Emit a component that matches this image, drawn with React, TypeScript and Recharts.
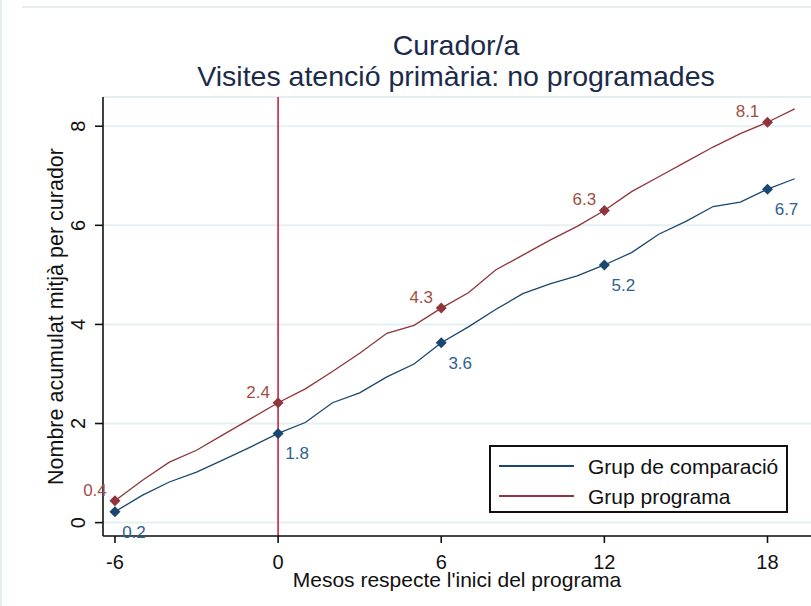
import { LineChart, Line, XAxis, YAxis, CartesianGrid, ReferenceLine, Legend, Label } from "recharts"

// mesos respecte l'inici del programa
const mesos = [-6, -5, -4, -3, -2, -1, 0, 1, 2, 3, 4, 5, 6, 7, 8, 9, 10, 11, 12, 13, 14, 15, 16, 17, 18, 19]

// nombre acumulat mitjà per curador
const grupComparacio = [
  0.22, 0.55, 0.82, 1.02, 1.27, 1.53, 1.8, 2.02, 2.42, 2.62, 2.94, 3.2, 3.63,
  3.95, 4.3, 4.62, 4.82, 4.98, 5.2, 5.45, 5.82, 6.08, 6.38, 6.47, 6.73, 6.94,
]
const grupPrograma = [
  0.44, 0.85, 1.22, 1.46, 1.78, 2.1, 2.42, 2.7, 3.05, 3.42, 3.82, 3.98, 4.33,
  4.64, 5.1, 5.4, 5.7, 5.98, 6.3, 6.68, 6.98, 7.28, 7.58, 7.85, 8.08, 8.35,
]

const mesosMarcats = [-6, 0, 6, 12, 18]
const xTicks = [-6, 0, 6, 12, 18]
const yTicks = [0, 2, 4, 6, 8]

const data = mesos.map((mes, i) => ({
  mes,
  comparacio: grupComparacio[i],
  programa: grupPrograma[i],
}))

const FONT = '"Liberation Sans", Arial, sans-serif'
const BLUE = "#1a476f"
const RED = "#90353b"

function makeDot(color: string, labelColor: string, dx: number, dy: number) {
  return (props: any) => {
    const { cx, cy, payload, key } = props
    if (!mesosMarcats.includes(payload.mes)) return <g key={key} />
    const r = 5.5
    const v = payload[props.dataKey] as number
    return (
      <g key={key}>
        <path d={`M${cx},${cy - r}L${cx + r},${cy}L${cx},${cy + r}L${cx - r},${cy}Z`} fill={color} />
        <text x={cx + dx} y={cy + dy} textAnchor="middle" fontSize={17} fontFamily={FONT} fill={labelColor}>
          {v.toFixed(1)}
        </text>
      </g>
    )
  }
}

function XTick(props: any) {
  const { x, y, payload } = props
  return (
    <text x={x} y={y + 26} textAnchor="middle" fontSize={20} fontFamily={FONT} fill="#111">
      {payload.value}
    </text>
  )
}

function YTick(props: any) {
  const { x, y, payload } = props
  return (
    <text x={x} y={y} transform={`rotate(-90 ${x} ${y})`} textAnchor="middle" fontSize={20} fontFamily={FONT} fill="#111">
      {payload.value}
    </text>
  )
}

function LegendBox(props: any) {
  const items = props.payload || []
  return (
    <div
      style={{
        position: "relative",
        width: 299,
        height: 68,
        border: "2px solid #111",
        boxSizing: "border-box",
        background: "#fff",
        fontFamily: FONT,
      }}
    >
      {items.map((it: any, i: number) => (
        <div key={it.value} style={{ position: "absolute", left: 0, top: 6 + i * 30, height: 28, width: 295 }}>
          <div style={{ position: "absolute", left: 8, top: 12, width: 75, height: 2, background: it.color }} />
          <div style={{ position: "absolute", left: 97, top: 0, fontSize: 21, lineHeight: "28px", color: "#111", whiteSpace: "nowrap" }}>
            {it.value}
          </div>
        </div>
      ))}
    </div>
  )
}

export default function App() {
  return (
    <div style={{ position: "absolute", left: 0, top: 0, width: 811, height: 606, background: "#fff", overflow: "hidden" }}>
      <div style={{ position: "absolute", left: 0, top: 0, width: 2, height: 606, background: "#e8edf0" }} />
      <div style={{ position: "absolute", left: 22, top: 6, width: 789, height: 2, background: "#e8edf0" }} />
      <div
        style={{
          position: "absolute",
          left: 0,
          width: 811,
          top: 30,
          textAlign: "center",
          fontFamily: FONT,
          fontSize: 28.5,
          lineHeight: "31px",
          color: "#1c2b4b",
          paddingLeft: 101,
          boxSizing: "border-box",
        }}
      >
        <div>Curador/a</div>
        <div>Visites atenció primària: no programades</div>
      </div>
      <div style={{ position: "absolute", left: 0, top: 0 }}>
        <LineChart width={811} height={606} data={data} margin={{ top: 97, right: 0, bottom: 0, left: 0 }}>
          <CartesianGrid vertical={false} stroke="#e6eff1" strokeWidth={2} />
          <XAxis
            dataKey="mes"
            type="number"
            domain={[-6.44, 19.6]}
            ticks={xTicks}
            height={70}
            tickSize={7}
            tickMargin={0}
            tick={<XTick />}
            axisLine={{ stroke: "#111", strokeWidth: 1.6 }}
            tickLine={{ stroke: "#111", strokeWidth: 1.6 }}
          >
            <Label
              value="Mesos respecte l'inici del programa"
              position="insideBottom"
              offset={19}
              style={{ fontSize: 21, fontFamily: FONT, fill: "#111" }}
            />
          </XAxis>
          <YAxis
            type="number"
            domain={[-0.27, 8.59]}
            ticks={yTicks}
            width={103}
            tickSize={8}
            tickMargin={10}
            tick={<YTick />}
            axisLine={{ stroke: "#111", strokeWidth: 1.6 }}
            tickLine={{ stroke: "#111", strokeWidth: 1.6 }}
          >
            <Label
              content={(p: any) => {
                const vb = p.viewBox
                const cy = vb.y + vb.height / 2
                return (
                  <text x={63} y={cy} transform={`rotate(-90 63 ${cy})`} textAnchor="middle" fontSize={21.5} fontFamily={FONT} fill="#111">
                    Nombre acumulat mitjà per curador
                  </text>
                )
              }}
            />
          </YAxis>
          <ReferenceLine x={0} stroke="#c8243f" strokeWidth={1.6} />
          <Line
            name="Grup de comparació"
            dataKey="comparacio"
            type="linear"
            stroke={BLUE}
            strokeWidth={1.3}
            dot={makeDot(BLUE, "#2f6190", 19, 26)}
            activeDot={false}
            isAnimationActive={false}
          />
          <Line
            name="Grup programa"
            dataKey="programa"
            type="linear"
            stroke={RED}
            strokeWidth={1.3}
            dot={makeDot(RED, "#a04f45", -20, -5)}
            activeDot={false}
            isAnimationActive={false}
          />
          <Legend
            layout="vertical"
            align="center"
            verticalAlign="middle"
            content={<LegendBox />}
            wrapperStyle={{ left: 489, top: 445, width: 299, height: 68 }}
          />
        </LineChart>
      </div>
    </div>
  )
}
